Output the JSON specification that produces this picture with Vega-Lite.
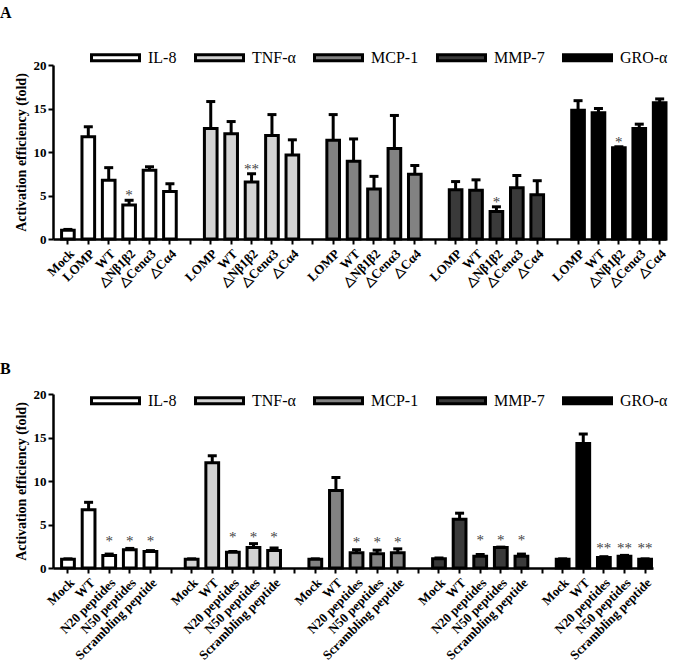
{
  "$schema": "https://vega.github.io/schema/vega-lite/v6.json",
  "padding": {"left": 0, "top": 5, "right": 0, "bottom": 0},
  "background": "white",
  "config": {
    "view": {"stroke": null},
    "font": "Liberation Serif",
    "axis": {"domainColor": "black", "domainWidth": 2.5, "tickColor": "black", "tickWidth": 2, "tickSize": 5, "labelColor": "black", "labelFont": "Liberation Serif", "labelFontWeight": "bold", "titleFont": "Liberation Serif", "titleFontWeight": "bold", "titleColor": "black", "grid": false},
    "legend": {"labelFont": "Liberation Serif", "labelFontSize": 16, "labelColor": "black", "labelFontWeight": "normal"},
    "title": {"font": "Liberation Serif", "fontWeight": "bold", "fontSize": 16, "color": "black"}
  },
  "datasets": {
    "panelA": [
      {"cyto": "IL-8", "slot": "IL-8|Mock", "value": 1.0, "upper": 1.1, "sig": ""},
      {"cyto": "IL-8", "slot": "IL-8|LOMP", "value": 11.75, "upper": 12.9, "sig": ""},
      {"cyto": "IL-8", "slot": "IL-8|WT", "value": 6.75, "upper": 8.2, "sig": ""},
      {"cyto": "IL-8", "slot": "IL-8|△Nβ1β2", "value": 3.9, "upper": 4.45, "sig": "*"},
      {"cyto": "IL-8", "slot": "IL-8|△Cenα3", "value": 7.9, "upper": 8.3, "sig": ""},
      {"cyto": "IL-8", "slot": "IL-8|△Cα4", "value": 5.45, "upper": 6.35, "sig": ""},
      {"cyto": "TNF-α", "slot": "TNF-α|LOMP", "value": 12.7, "upper": 15.8, "sig": ""},
      {"cyto": "TNF-α", "slot": "TNF-α|WT", "value": 12.1, "upper": 13.5, "sig": ""},
      {"cyto": "TNF-α", "slot": "TNF-α|△Nβ1β2", "value": 6.55, "upper": 7.5, "sig": "**"},
      {"cyto": "TNF-α", "slot": "TNF-α|△Cenα3", "value": 11.9, "upper": 14.3, "sig": ""},
      {"cyto": "TNF-α", "slot": "TNF-α|△Cα4", "value": 9.65, "upper": 11.4, "sig": ""},
      {"cyto": "MCP-1", "slot": "MCP-1|LOMP", "value": 11.35, "upper": 14.3, "sig": ""},
      {"cyto": "MCP-1", "slot": "MCP-1|WT", "value": 8.95, "upper": 11.5, "sig": ""},
      {"cyto": "MCP-1", "slot": "MCP-1|△Nβ1β2", "value": 5.75, "upper": 7.2, "sig": ""},
      {"cyto": "MCP-1", "slot": "MCP-1|△Cenα3", "value": 10.4, "upper": 14.2, "sig": ""},
      {"cyto": "MCP-1", "slot": "MCP-1|△Cα4", "value": 7.45, "upper": 8.45, "sig": ""},
      {"cyto": "MMP-7", "slot": "MMP-7|LOMP", "value": 5.65, "upper": 6.6, "sig": ""},
      {"cyto": "MMP-7", "slot": "MMP-7|WT", "value": 5.6, "upper": 6.8, "sig": ""},
      {"cyto": "MMP-7", "slot": "MMP-7|△Nβ1β2", "value": 3.15, "upper": 3.7, "sig": "*"},
      {"cyto": "MMP-7", "slot": "MMP-7|△Cenα3", "value": 5.9, "upper": 7.3, "sig": ""},
      {"cyto": "MMP-7", "slot": "MMP-7|△Cα4", "value": 5.1, "upper": 6.7, "sig": ""},
      {"cyto": "GRO-α", "slot": "GRO-α|LOMP", "value": 14.8, "upper": 15.9, "sig": ""},
      {"cyto": "GRO-α", "slot": "GRO-α|WT", "value": 14.5, "upper": 15.0, "sig": ""},
      {"cyto": "GRO-α", "slot": "GRO-α|△Nβ1β2", "value": 10.5, "upper": 10.6, "sig": "*"},
      {"cyto": "GRO-α", "slot": "GRO-α|△Cenα3", "value": 12.7, "upper": 13.2, "sig": ""},
      {"cyto": "GRO-α", "slot": "GRO-α|△Cα4", "value": 15.65, "upper": 16.1, "sig": ""}
    ],
    "panelB": [
      {"cyto": "IL-8", "slot": "IL-8|Mock", "value": 1.0, "upper": 1.05, "sig": ""},
      {"cyto": "IL-8", "slot": "IL-8|WT", "value": 6.7, "upper": 7.55, "sig": ""},
      {"cyto": "IL-8", "slot": "IL-8|N20 peptides", "value": 1.45, "upper": 1.6, "sig": "*"},
      {"cyto": "IL-8", "slot": "IL-8|N50 peptides", "value": 2.1, "upper": 2.25, "sig": "*"},
      {"cyto": "IL-8", "slot": "IL-8|Scrambling peptide", "value": 1.9, "upper": 2.0, "sig": "*"},
      {"cyto": "TNF-α", "slot": "TNF-α|Mock", "value": 1.0, "upper": 1.05, "sig": ""},
      {"cyto": "TNF-α", "slot": "TNF-α|WT", "value": 12.1, "upper": 12.9, "sig": ""},
      {"cyto": "TNF-α", "slot": "TNF-α|N20 peptides", "value": 1.8, "upper": 1.9, "sig": "*"},
      {"cyto": "TNF-α", "slot": "TNF-α|N50 peptides", "value": 2.35, "upper": 2.8, "sig": "*"},
      {"cyto": "TNF-α", "slot": "TNF-α|Scrambling peptide", "value": 2.0, "upper": 2.3, "sig": "*"},
      {"cyto": "MCP-1", "slot": "MCP-1|Mock", "value": 1.0, "upper": 1.05, "sig": ""},
      {"cyto": "MCP-1", "slot": "MCP-1|WT", "value": 8.9, "upper": 10.4, "sig": ""},
      {"cyto": "MCP-1", "slot": "MCP-1|N20 peptides", "value": 1.75, "upper": 2.1, "sig": "*"},
      {"cyto": "MCP-1", "slot": "MCP-1|N50 peptides", "value": 1.65, "upper": 2.05, "sig": "*"},
      {"cyto": "MCP-1", "slot": "MCP-1|Scrambling peptide", "value": 1.75, "upper": 2.2, "sig": "*"},
      {"cyto": "MMP-7", "slot": "MMP-7|Mock", "value": 1.05, "upper": 1.15, "sig": ""},
      {"cyto": "MMP-7", "slot": "MMP-7|WT", "value": 5.6, "upper": 6.3, "sig": ""},
      {"cyto": "MMP-7", "slot": "MMP-7|N20 peptides", "value": 1.35, "upper": 1.55, "sig": "*"},
      {"cyto": "MMP-7", "slot": "MMP-7|N50 peptides", "value": 2.35, "upper": 2.4, "sig": "*"},
      {"cyto": "MMP-7", "slot": "MMP-7|Scrambling peptide", "value": 1.35, "upper": 1.6, "sig": "*"},
      {"cyto": "GRO-α", "slot": "GRO-α|Mock", "value": 1.0, "upper": 1.05, "sig": ""},
      {"cyto": "GRO-α", "slot": "GRO-α|WT", "value": 14.3, "upper": 15.4, "sig": ""},
      {"cyto": "GRO-α", "slot": "GRO-α|N20 peptides", "value": 1.2, "upper": 1.3, "sig": "**"},
      {"cyto": "GRO-α", "slot": "GRO-α|N50 peptides", "value": 1.35, "upper": 1.45, "sig": "**"},
      {"cyto": "GRO-α", "slot": "GRO-α|Scrambling peptide", "value": 1.0, "upper": 1.05, "sig": "**"}
    ]
  },
  "resolve": {"scale": {"color": "independent"}, "legend": {"color": "independent"}},
  "spacing": 72,
  "vconcat": [
    {
      "title": {"text": "A", "anchor": "start", "frame": "bounds", "dx": -14, "offset": 11},
      "width": 613,
      "height": 174,
      "data": {"name": "panelA"},
      "encoding": {
        "x": {"field": "slot", "type": "nominal", "sort": null,
          "scale": {"domain": ["IL-8|Mock", "IL-8|LOMP", "IL-8|WT", "IL-8|△Nβ1β2", "IL-8|△Cenα3", "IL-8|△Cα4", "g1", "TNF-α|LOMP", "TNF-α|WT", "TNF-α|△Nβ1β2", "TNF-α|△Cenα3", "TNF-α|△Cα4", "g2", "MCP-1|LOMP", "MCP-1|WT", "MCP-1|△Nβ1β2", "MCP-1|△Cenα3", "MCP-1|△Cα4", "g3", "MMP-7|LOMP", "MMP-7|WT", "MMP-7|△Nβ1β2", "MMP-7|△Cenα3", "MMP-7|△Cα4", "g4", "GRO-α|LOMP", "GRO-α|WT", "GRO-α|△Nβ1β2", "GRO-α|△Cenα3", "GRO-α|△Cα4"], "paddingInner": 0.38, "paddingOuter": 0.21, "align": 1},
          "axis": {"title": null, "labelAngle": -45, "labelFontSize": 13, "labelPadding": 3, "labelExpr": "indexof(datum.value, '|') >= 0 ? split(datum.value, '|')[1] : ''"}}
      },
      "layer": [
        {
          "mark": {"type": "rule", "stroke": "black", "strokeWidth": 3},
          "encoding": {"y": {"field": "value", "type": "quantitative"}, "y2": {"field": "upper"}}
        },
        {
          "mark": {"type": "tick", "color": "black", "thickness": 3, "size": 9, "opacity": 1},
          "encoding": {"y": {"field": "upper", "type": "quantitative"}}
        },
        {
          "mark": {"type": "bar", "stroke": "black", "strokeWidth": 3, "opacity": 1},
          "encoding": {
            "y": {"field": "value", "type": "quantitative", "scale": {"domain": [0, 20]},
              "axis": {"title": "Activation efficiency (fold)", "titleFontSize": 14, "values": [0, 5, 10, 15, 20], "labelFontSize": 13, "labelPadding": 2, "titlePadding": 5}},
            "color": {"field": "cyto", "type": "nominal",
              "scale": {"domain": ["IL-8", "TNF-α", "MCP-1", "MMP-7", "GRO-α"], "range": ["#ffffff", "#d3d3d3", "#828282", "#3a3a3a", "#000000"]},
              "legend": {"title": null, "orient": "none", "legendX": 37, "legendY": -33, "direction": "horizontal", "columns": 5, "columnPadding": 12, "labelOffset": 7, "symbolType": "M-1,-0.125H1V0.125H-1Z", "symbolSize": 2304, "symbolStrokeColor": "black", "symbolStrokeWidth": 3, "symbolOpacity": 1}}
          }
        },
        {
          "transform": [{"filter": "datum.sig != ''"}],
          "mark": {"type": "text", "fontSize": 15, "color": "#444444", "baseline": "alphabetic", "dy": 0},
          "encoding": {"y": {"field": "upper", "type": "quantitative"}, "text": {"field": "sig"}}
        }
      ]
    },
    {
      "title": {"text": "B", "anchor": "start", "frame": "bounds", "dx": -14, "offset": -2},
      "width": 600,
      "height": 174,
      "data": {"name": "panelB"},
      "encoding": {
        "x": {"field": "slot", "type": "nominal", "sort": null,
          "scale": {"domain": ["IL-8|Mock", "IL-8|WT", "IL-8|N20 peptides", "IL-8|N50 peptides", "IL-8|Scrambling peptide", "g1", "TNF-α|Mock", "TNF-α|WT", "TNF-α|N20 peptides", "TNF-α|N50 peptides", "TNF-α|Scrambling peptide", "g2", "MCP-1|Mock", "MCP-1|WT", "MCP-1|N20 peptides", "MCP-1|N50 peptides", "MCP-1|Scrambling peptide", "g3", "MMP-7|Mock", "MMP-7|WT", "MMP-7|N20 peptides", "MMP-7|N50 peptides", "MMP-7|Scrambling peptide", "g4", "GRO-α|Mock", "GRO-α|WT", "GRO-α|N20 peptides", "GRO-α|N50 peptides", "GRO-α|Scrambling peptide"], "paddingInner": 0.38, "paddingOuter": 0.245, "align": 0.85},
          "axis": {"title": null, "labelAngle": -45, "labelFontSize": 13, "labelPadding": 3, "labelExpr": "indexof(datum.value, '|') >= 0 ? split(datum.value, '|')[1] : ''"}}
      },
      "layer": [
        {
          "mark": {"type": "rule", "stroke": "black", "strokeWidth": 3},
          "encoding": {"y": {"field": "value", "type": "quantitative"}, "y2": {"field": "upper"}}
        },
        {
          "mark": {"type": "tick", "color": "black", "thickness": 3, "size": 9, "opacity": 1},
          "encoding": {"y": {"field": "upper", "type": "quantitative"}}
        },
        {
          "mark": {"type": "bar", "stroke": "black", "strokeWidth": 3, "opacity": 1},
          "encoding": {
            "y": {"field": "value", "type": "quantitative", "scale": {"domain": [0, 20]},
              "axis": {"title": "Activation efficiency (fold)", "titleFontSize": 14, "values": [0, 5, 10, 15, 20], "labelFontSize": 13, "labelPadding": 2, "titlePadding": 5}},
            "color": {"field": "cyto", "type": "nominal",
              "scale": {"domain": ["IL-8", "TNF-α", "MCP-1", "MMP-7", "GRO-α"], "range": ["#ffffff", "#d3d3d3", "#828282", "#3a3a3a", "#000000"]},
              "legend": {"title": null, "orient": "none", "legendX": 37, "legendY": -19, "direction": "horizontal", "columns": 5, "columnPadding": 12, "labelOffset": 7, "symbolType": "M-1,-0.125H1V0.125H-1Z", "symbolSize": 2304, "symbolStrokeColor": "black", "symbolStrokeWidth": 3, "symbolOpacity": 1}}
          }
        },
        {
          "transform": [{"filter": "datum.sig != ''"}, {"joinaggregate": [{"op": "max", "field": "upper", "as": "starAt"}], "groupby": ["cyto"]}],
          "mark": {"type": "text", "fontSize": 15, "color": "#444444", "baseline": "alphabetic", "dy": -2},
          "encoding": {"y": {"field": "starAt", "type": "quantitative"}, "text": {"field": "sig"}}
        }
      ]
    }
  ]
}
